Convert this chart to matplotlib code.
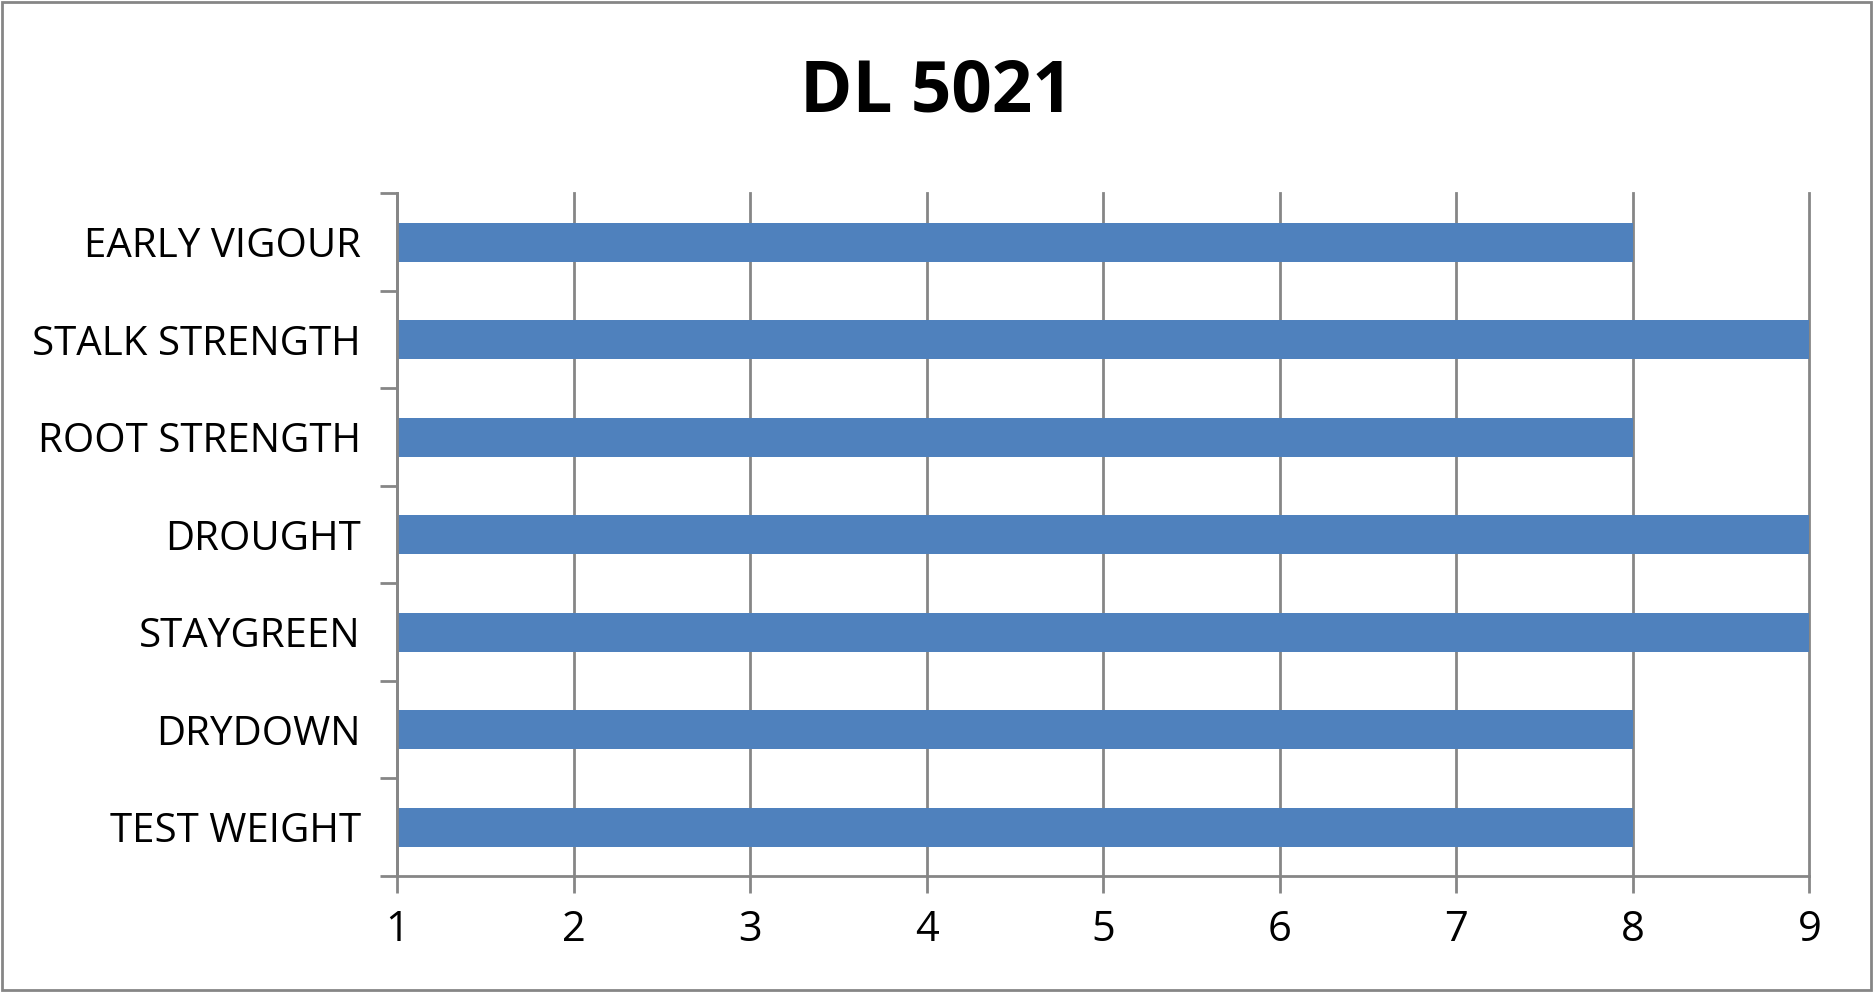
import numpy as np
import matplotlib
matplotlib.use("Agg")
from matplotlib import pyplot as plt
from matplotlib.patches import Rectangle

title = "DL 5021"
traits = ["EARLY VIGOUR", "STALK STRENGTH", "ROOT STRENGTH", "DROUGHT",
          "STAYGREEN", "DRYDOWN", "TEST WEIGHT"]
scores = [8, 9, 8, 9, 9, 8, 8]
xticks = [1, 2, 3, 4, 5, 6, 7, 8, 9]

bar_color = "#4f81bd"
grid_color = "#868686"

plt.rcParams['font.family'] = ['Open Sans', 'DejaVu Sans']

fig = plt.figure(figsize=(18.73, 9.92), dpi=100)
ax = fig.add_axes([0.212, 0.117, 0.754, 0.688])

ypos = np.arange(len(traits))[::-1]
ax.barh(ypos, scores, height=0.4, color=bar_color, zorder=3)

ax.set_xlim(1, 9)
ax.set_ylim(-0.5, len(traits) - 0.5)
ax.set_xticks(xticks)
ax.set_xticklabels([str(t) for t in xticks], fontsize=30)
ax.set_yticks(ypos)
ax.set_yticklabels(traits, fontsize=29)
ax.tick_params(axis='y', length=0, pad=26)
ax.tick_params(axis='x', length=12, width=2, color=grid_color, pad=12)

# category boundary ticks on the y axis
ax.set_yticks(np.arange(-0.5, len(traits), 1), minor=True)
ax.tick_params(axis='y', which='minor', length=12, width=2, color=grid_color)

ax.grid(axis='x', color=grid_color, linewidth=2, zorder=0)
for gl in ax.get_xgridlines():
    gl.set_clip_on(False)
for s in ['top', 'right']:
    ax.spines[s].set_visible(False)
for s in ['left', 'bottom']:
    ax.spines[s].set_color(grid_color)
    ax.spines[s].set_linewidth(2)
ax.spines['left'].set_zorder(4)

fig.text(0.5, 0.907, title, ha='center', va='center', fontsize=51, fontweight='bold')

fig.patches.append(Rectangle((0.001, 0.002), 0.998, 0.996, transform=fig.transFigure,
                             fill=False, edgecolor=grid_color, linewidth=2))

fig.savefig("out.png", dpi=100)
